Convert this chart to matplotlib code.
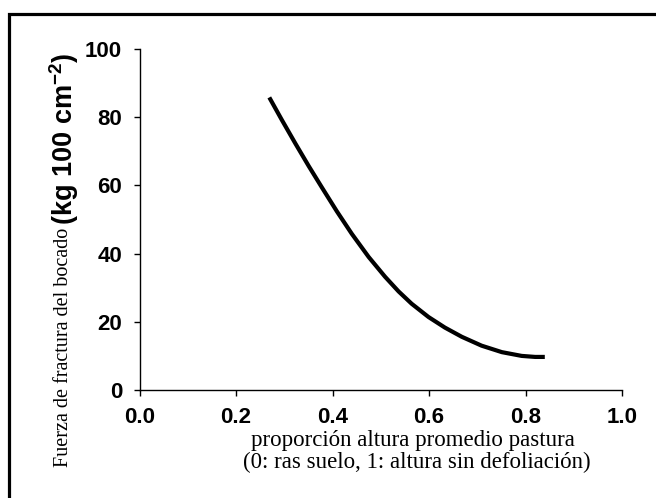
import matplotlib
matplotlib.use('Agg')
import matplotlib.pyplot as plt
from matplotlib.patches import Rectangle

# fitted curve, read point by point
proporcion = [0.269, 0.295, 0.323, 0.351, 0.378, 0.409, 0.440, 0.475, 0.509,
              0.537, 0.564, 0.599, 0.633, 0.668, 0.709, 0.751, 0.792, 0.820, 0.840]
fuerza = [85.8, 79.2, 72.3, 65.6, 59.4, 52.4, 45.8, 39.0, 33.2,
          28.9, 25.3, 21.4, 18.3, 15.6, 13.0, 11.1, 10.0, 9.7, 9.7]

x_ticks = [0.0, 0.2, 0.4, 0.6, 0.8, 1.0]
y_ticks = [0, 20, 40, 60, 80, 100]

plt.rcParams['mathtext.fontset'] = 'custom'
plt.rcParams['mathtext.rm'] = 'Liberation Sans'
plt.rcParams['mathtext.bf'] = 'Liberation Sans:bold'

W, H = 656, 498
fig = plt.figure(figsize=(W / 100, H / 100), dpi=100)
ax = fig.add_axes([139.5 / W, (H - 390) / H, (622 - 139.5) / W, (390 - 49) / H])

ax.plot(proporcion, fuerza, color='black', linewidth=3.0, solid_capstyle='butt',
        solid_joinstyle='round')

ax.set_xlim(0, 1)
ax.set_ylim(0, 100)
ax.set_xticks(x_ticks)
ax.set_yticks(y_ticks)
ax.set_xticklabels([f'{t:.1f}' for t in x_ticks])
ax.set_yticklabels([str(t) for t in y_ticks])
for lab in ax.get_xticklabels() + ax.get_yticklabels():
    lab.set_fontfamily('Liberation Sans')
    lab.set_fontweight('bold')
    lab.set_fontsize(16)
ax.tick_params(axis='both', direction='out', length=4.5, width=1.0, colors='black')
ax.tick_params(axis='y', pad=8)
ax.tick_params(axis='x', pad=7.5)
for side in ['top', 'right']:
    ax.spines[side].set_visible(False)
for side in ['left', 'bottom']:
    ax.spines[side].set_linewidth(1.0)

# x label: two centred serif lines
fig.text(413 / W, 1 - 440 / H, 'proporción altura promedio pastura',
         family='Liberation Serif', fontsize=16.5, ha='center', va='center')
fig.text(417 / W, 1 - 462 / H, '(0: ras suelo, 1: altura sin defoliación)',
         family='Liberation Serif', fontsize=16.5, ha='center', va='center')

# y label: serif text followed by bold sans units
t1 = fig.text(63 / W, 1 - 467 / H, 'Fuerza de fractura del bocado',
              family='Liberation Serif', fontsize=14.5, rotation=90,
              rotation_mode='anchor', ha='left', va='center')
fig.canvas.draw()
bb = t1.get_window_extent(fig.canvas.get_renderer())
fig.text(64 / W, (bb.y1 + 3) / H, r'(kg 100 cm$^{\mathbf{-2}}$)',
         family='Liberation Sans', fontweight='bold', fontsize=19.5, rotation=90,
         rotation_mode='anchor', ha='left', va='center')

# frame around the figure
fig.patches.append(Rectangle((8.5 / W, -0.1), 1.0, 1.1 - 14.5 / H,
                             transform=fig.transFigure, fill=False,
                             edgecolor='black', linewidth=2.3, clip_on=False))

fig.savefig('out.png', dpi=100)
